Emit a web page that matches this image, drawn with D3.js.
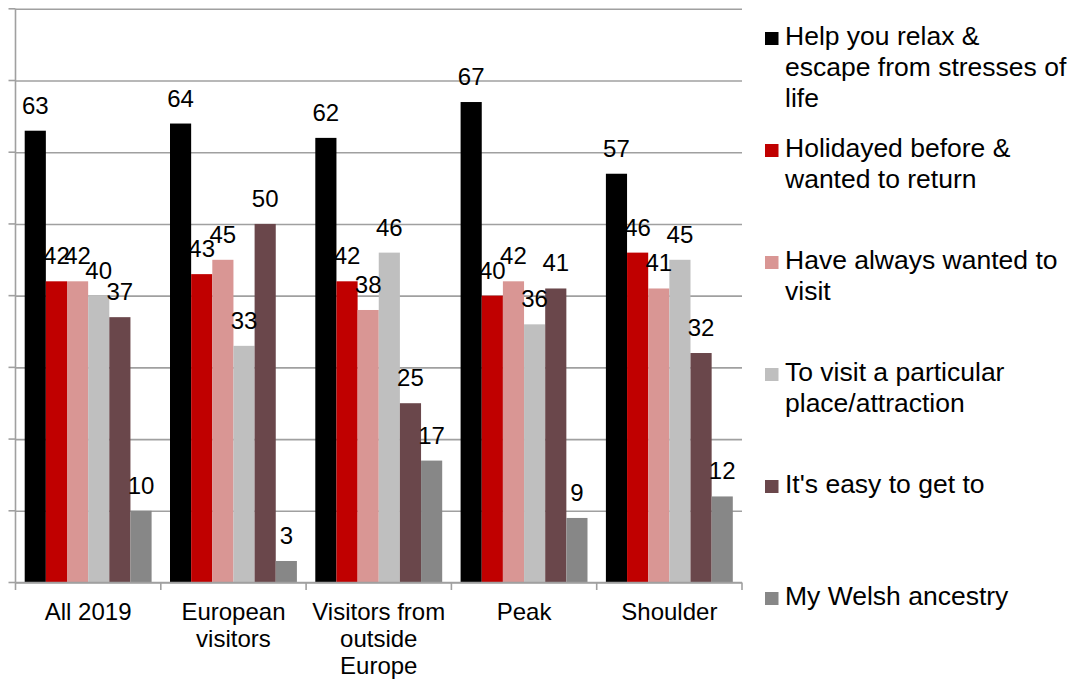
<!DOCTYPE html>
<html>
<head>
<meta charset="utf-8">
<script src="https://cdn.jsdelivr.net/npm/d3@7"></script>
<style>
  html, body { margin: 0; padding: 0; background: #fff; }
  svg { display: block; }
  text { font-family: "Liberation Sans", Arial, sans-serif; fill: #000; }
</style>
</head>
<body>
<svg id="chart" width="1077" height="679"></svg>
<script>
// ---- data ----
const categories = ["All 2019", "European visitors", "Visitors from outside Europe", "Peak", "Shoulder"];
const categoryLines = [["All 2019"], ["European", "visitors"], ["Visitors from", "outside", "Europe"], ["Peak"], ["Shoulder"]];
const seriesNames = [
  "Help you relax & escape from stresses of life",
  "Holidayed before & wanted to return",
  "Have always wanted to visit",
  "To visit a particular place/attraction",
  "It's easy to get to",
  "My Welsh ancestry"
];
const legendLines = [
  ["Help you relax &", "escape from stresses of", "life"],
  ["Holidayed before &", "wanted to return"],
  ["Have always wanted to", "visit"],
  ["To visit a particular", "place/attraction"],
  ["It's easy to get to"],
  ["My Welsh ancestry"]
];
const seriesColors = ["#000000", "#C00000", "#D99694", "#BFBFBF", "#6A474B", "#878787"];
// values[series][category]
const relaxValues    = [63, 64, 62, 67, 57];
const returnValues   = [42, 43, 42, 40, 46];
const alwaysValues   = [42, 45, 38, 42, 41];
const placeValues    = [40, 33, 46, 36, 45];
const easyValues     = [37, 50, 25, 41, 32];
const ancestryValues = [10, 3, 17, 9, 12];
const seriesValues = [relaxValues, returnValues, alwaysValues, placeValues, easyValues, ancestryValues];
const yTicks = [0, 10, 20, 30, 40, 50, 60, 70, 80];

// ---- layout ----
const svg = d3.select("#chart");
const plotLeft = 15.5, plotRight = 742, plotTop = 8.8, plotBottom = 582.5;
const gridColor = "#A0A0A0";

const y = d3.scaleLinear().domain([0, 80]).range([plotBottom, plotTop]);
const x0 = d3.scaleBand().domain(categories).range([plotLeft, plotRight]).padding(0);
const x1 = d3.scaleBand().domain(d3.range(seriesNames.length))
  .range([9.2, x0.bandwidth() - 9.2]).padding(0);

// gridlines
const yAxis = d3.axisLeft(y).tickValues(yTicks).tickSize(-(plotRight - plotLeft)).tickFormat("");
const gy = svg.append("g").attr("transform", `translate(${plotLeft},0)`).call(yAxis);
gy.select(".domain").remove();
gy.selectAll(".tick line").attr("stroke", gridColor).attr("stroke-width", 1.6);
// left tick stubs
svg.append("g").selectAll("line").data(yTicks).join("line")
  .attr("x1", plotLeft - 7).attr("x2", plotLeft)
  .attr("y1", d => y(d)).attr("y2", d => y(d))
  .attr("stroke", gridColor).attr("stroke-width", 1.6);
// y axis line
svg.append("line").attr("x1", plotLeft).attr("x2", plotLeft)
  .attr("y1", plotTop).attr("y2", plotBottom)
  .attr("stroke", gridColor).attr("stroke-width", 1.6);

// bars
const groups = svg.append("g").selectAll("g").data(categories).join("g")
  .attr("transform", d => `translate(${x0(d)},0)`);
groups.each(function(cat, ci) {
  const g = d3.select(this);
  seriesValues.forEach((vals, si) => {
    const v = vals[ci];
    g.append("rect")
      .attr("x", x1(si)).attr("width", x1.bandwidth())
      .attr("y", y(v)).attr("height", y(0) - y(v))
      .attr("fill", seriesColors[si]);
  });
  seriesValues.forEach((vals, si) => {
    const v = vals[ci];
    g.append("text")
      .attr("x", x1(si) + x1.bandwidth() / 2)
      .attr("y", y(v) - 17)
      .attr("text-anchor", "middle")
      .style("font-size", "24px")
      .text(v);
  });
});

// x axis
const xTicks = categories.map(c => x0(c)).concat([plotRight]);
svg.append("line").attr("x1", plotLeft).attr("x2", plotRight)
  .attr("y1", plotBottom).attr("y2", plotBottom)
  .attr("stroke", gridColor).attr("stroke-width", 1.6);
svg.append("g").selectAll("line").data(xTicks).join("line")
  .attr("x1", d => d).attr("x2", d => d)
  .attr("y1", plotBottom).attr("y2", plotBottom + 7.5)
  .attr("stroke", gridColor).attr("stroke-width", 1.6);

// category labels
svg.append("g").selectAll("text").data(categories).join("text")
  .attr("text-anchor", "middle")
  .style("font-size", "24px")
  .each(function(c, i) {
    const t = d3.select(this);
    categoryLines[i].forEach((line, li) => {
      t.append("tspan")
        .attr("x", x0(c) + x0.bandwidth() / 2)
        .attr("y", 619.5 + li * 27)
        .text(line);
    });
  });

// legend
const legend = svg.append("g");
seriesNames.forEach((name, i) => {
  const base = 45 + i * 112;
  legend.append("rect")
    .attr("x", 765).attr("y", base - 13)
    .attr("width", 13.5).attr("height", 13)
    .attr("fill", seriesColors[i]);
  const t = legend.append("text").style("font-size", "26.5px");
  legendLines[i].forEach((line, li) => {
    t.append("tspan").attr("x", 785).attr("y", base + li * 31).text(line);
  });
});
</script>
</body>
</html>
